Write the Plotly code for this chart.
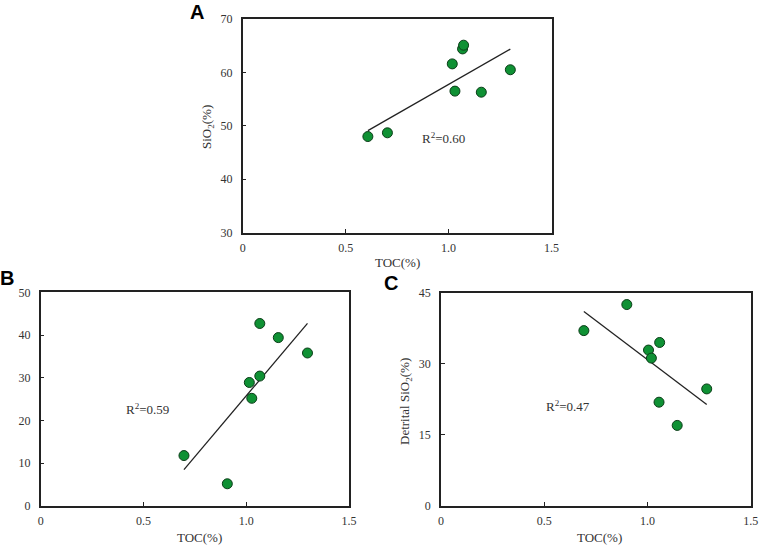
import numpy as np
import plotly.graph_objects as go

W, H = 761, 546

# panel A: TOC vs SiO2
toc_a = [0.608, 0.703, 1.018, 1.031, 1.068, 1.073, 1.159, 1.300]
sio2_a = [48.0, 48.7, 61.6, 56.5, 64.4, 65.1, 56.3, 60.5]

# panel B: TOC vs (label cut off in the source)
toc_b = [0.697, 0.908, 1.015, 1.027, 1.066, 1.066, 1.156, 1.298]
val_b = [11.8, 5.2, 28.9, 25.2, 42.7, 30.4, 39.4, 35.8]

# panel C: TOC vs detrital SiO2
toc_c = [0.692, 0.900, 1.005, 1.019, 1.059, 1.056, 1.144, 1.287]
det_c = [37.0, 42.5, 32.9, 31.2, 34.5, 21.9, 17.0, 24.7]

r2_labels = ["R<sup>2</sup>=0.60", "R<sup>2</sup>=0.59", "R<sup>2</sup>=0.47"]


def px(x):
    return x / W


def py(y):
    return 1 - y / H


serif = "Liberation Serif"
tick_font = dict(family=serif, size=12, color="#333")
green = "#0f9134"

fig = go.Figure()

panels = [
    # x data, y data, axis suffix, x px range, y px range, y range, y dtick
    (toc_a, sio2_a, "", (242.7, 551.5), (19.0, 232.7), [30, 70], 10),
    (toc_b, val_b, "2", (40.7, 349.0), (292.3, 506.0), [0, 50], 10),
    (toc_c, det_c, "3", (441.0, 750.7), (292.7, 506.0), [0, 45], 15),
]

for i, (xs, ys, sfx, (x0, x1), (y0, y1), yr, dt) in enumerate(panels):
    xs = np.array(xs)
    ys = np.array(ys)
    k, b = np.polyfit(xs, ys, 1)
    xl = np.array([xs.min(), xs.max()])
    fig.add_trace(go.Scatter(x=xl, y=k * xl + b, mode="lines",
                             line=dict(color="#222", width=1.3),
                             xaxis="x" + sfx, yaxis="y" + sfx, showlegend=False))
    fig.add_trace(go.Scatter(x=xs, y=ys, mode="markers",
                             marker=dict(size=10, color=green,
                                         line=dict(color="#0b3d18", width=1)),
                             xaxis="x" + sfx, yaxis="y" + sfx, showlegend=False))
    axis_common = dict(showline=True, linecolor="#222", linewidth=1.5, mirror=True,
                       ticks="inside", ticklen=4, tickcolor="#222",
                       showgrid=False, zeroline=False, tickfont=tick_font)
    fig.update_layout(**{
        "xaxis" + sfx: dict(domain=[px(x0), px(x1)], range=[0, 1.5],
                            tickvals=[0, 0.5, 1.0, 1.5],
                            ticktext=["0", "0.5", "1.0", "1.5"],
                            anchor="y" + sfx, ticklabelstandoff=3, **axis_common),
        "yaxis" + sfx: dict(domain=[py(y1), py(y0)], range=yr, dtick=dt,
                            anchor="x" + sfx, ticklabelstandoff=6, **axis_common),
    })

annotations = []


def note(text, x, y, size=13, family=serif, angle=0, color="#333"):
    annotations.append(dict(text=text, x=px(x), y=py(y), xref="paper", yref="paper",
                            xanchor="center", yanchor="middle", textangle=angle,
                            showarrow=False, font=dict(family=family, size=size, color=color)))


for t, x, y in [("A", 197, 12), ("B", 7, 278), ("C", 391, 283)]:
    note("<b>%s</b>" % t, x, y, size=20, family="Liberation Sans", color="#000")

# TOC x-axis titles
for x, y in [(397, 262), (199, 537), (599, 537)]:
    note("TOC(%)", x, y)

# y-axis titles
note("SiO<sub>2</sub>(%)", 207, 127, angle=-90)
note("Detrital SiO<sub>2</sub>(%)", 405, 402, angle=-90)

# R2 labels, placed in data coords
r2_pos = [("", 0.976, 47.8), ("2", 0.518, 22.7), ("3", 0.613, 21.2)]
for lab, (sfx, x, y) in zip(r2_labels, r2_pos):
    annotations.append(dict(text=lab, x=x, y=y, xref="x" + sfx, yref="y" + sfx,
                            showarrow=False, font=dict(family=serif, size=13, color="#333")))

fig.update_layout(width=W, height=H, margin=dict(l=0, r=0, t=0, b=0),
                  font=dict(family=serif, color="#333"),
                  template="none",
                  paper_bgcolor="white", plot_bgcolor="white",
                  annotations=annotations)

# page body has an 8px default margin, drop it so the figure fills the window
fig.write_html("out.html", config={"displayModeBar": False},
               post_script="document.body.style.margin='0';document.body.style.overflow='hidden';")
